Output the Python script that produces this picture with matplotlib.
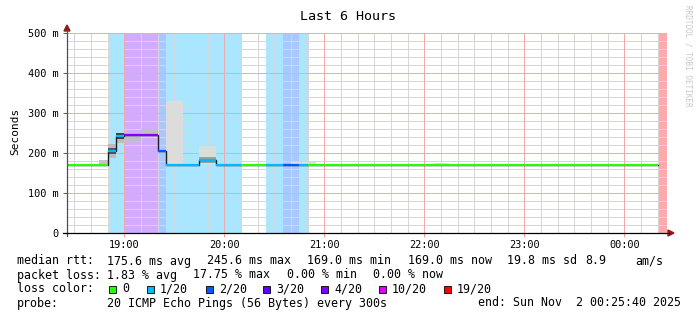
import matplotlib
matplotlib.use("Agg")
import matplotlib.pyplot as plt
import numpy as np
from matplotlib.patches import Rectangle

W, H = 697, 321

# median rtt per 5-minute segment (ms) and lost pings (out of 20)
seg_start = ["18:25", "18:50", "18:55", "19:00", "19:20", "19:25", "19:45", "19:55",
             "20:10", "20:25", "20:35", "20:45", "20:50", "00:20"]
seg_end = ["18:50", "18:55", "19:00", "19:20", "19:25", "19:45", "19:55", "20:10",
           "20:25", "20:35", "20:45", "20:50", "00:20", "00:25:40"]
median_ms = [169.0, 204.0, 242.0, 245.6, 205.0, 169.0, 182.0, 171.0,
             169.0, 169.0, 169.0, 169.0, 169.0, np.nan]
loss = [0, 1, 1, 4, 2, 1, 1, 1, 0, 1, 2, 1, 0, 19]

# smoke (ping spread) boxes
smoke_start = ["18:45", "18:50", "18:50", "18:55", "18:55", "19:00", "19:10", "19:25",
               "19:45", "19:45", "19:55", "20:40", "22:05"]
smoke_end = ["18:50", "18:55", "18:55", "19:00", "19:00", "19:10", "19:20", "19:35",
             "19:55", "19:55", "20:05", "20:55", "22:15"]
smoke_lo = [170, 188, 197, 224, 236, 228, 247, 169, 172, 176, 169, 169, 169]
smoke_hi = [182, 222, 212, 250, 250, 244, 260, 330, 218, 190, 176, 177, 176]
smoke_col = ["#c4c4c4", "#bcbcbc", "#555555", "#bcbcbc", "#404040", "#c0c0c0", "#c0c0c0",
             "#dcdcdc", "#dcdcdc", "#a0a0a0", "#d4d4d4", "#dedede", "#e0e0e0"]

loss_levels = [0, 1, 2, 3, 4, 10, 19]
loss_colors = ["#26ff00", "#00b8ff", "#0059ff", "#5e00ff", "#7e00ff", "#dd00ff", "#ff0000"]
loss_names = ["0", "1/20", "2/20", "3/20", "4/20", "10/20", "19/20"]

hour_ticks = [19, 20, 21, 22, 23, 24]
hour_labels = ["19:00", "20:00", "21:00", "22:00", "23:00", "00:00"]
y_ticks = [0, 100, 200, 300, 400, 500]
y_labels = ["0", "100 m", "200 m", "300 m", "400 m", "500 m"]


def hrs(s):
    parts = [int(p) for p in s.split(":")]
    h = parts[0] + parts[1] / 60 + (parts[2] / 3600 if len(parts) > 2 else 0)
    return h + 24 if parts[0] < 12 else h


def lcolor(n):
    return loss_colors[loss_levels.index(n)]


def light(c, a=1 / 3):
    rgb = np.array(matplotlib.colors.to_rgb(c))
    return tuple(rgb * a + (1 - a))


def fx(x):
    return x / W


def fy(y):
    return 1 - y / H


x0, x1 = hrs("18:25:40"), hrs("00:25:40")
MONO = "DejaVu Sans Mono"

fig = plt.figure(figsize=(W / 100, H / 100), dpi=100)
ax = fig.add_axes([fx(67), fy(233), 600 / W, 200 / H])
ax.set_xlim(x0, x1)
ax.set_ylim(0, 500)

# loss background
for s, e, n in zip(seg_start, seg_end, loss):
    if n > 0:
        ax.axvspan(hrs(s), hrs(e), color=light(lcolor(n)), lw=0, zorder=0.5)

# grid
grid_kw = dict(lw=0.72, antialiased=False)
for m in np.arange(18 * 60 + 30, 24 * 60 + 30, 10):
    if m % 60:
        ax.axvline(m / 60, color="#d6d6d6", zorder=1, **grid_kw)
for v in range(20, 500, 20):
    if v % 100:
        ax.axhline(v, color="#d6d6d6", zorder=1, **grid_kw)
for h in hour_ticks:
    ax.axvline(h, color="#f5a8a8", zorder=1.1, **grid_kw)
for v in y_ticks[1:]:
    ax.axhline(v, color="#f5a8a8", zorder=1.1, **grid_kw)

# smoke
for s, e, lo, hi, c in zip(smoke_start, smoke_end, smoke_lo, smoke_hi, smoke_col):
    ax.add_patch(Rectangle((hrs(s), lo), hrs(e) - hrs(s), hi - lo, color=c, lw=0, zorder=2))

# median line
xs = [hrs(s) for s in seg_start[:-1]] + [hrs(seg_end[-2])]
ys = list(median_ms[:-1]) + [median_ms[-2]]
ax.step(xs, ys, where="post", color="#202020", lw=1.0, zorder=3)
for s, e, m, n in zip(seg_start, seg_end, median_ms, loss):
    if not np.isnan(m):
        ax.hlines(m, hrs(s), hrs(e), colors=lcolor(n), lw=1.6, zorder=4)

for sp in ax.spines.values():
    sp.set_visible(False)
ax.set_xticks(hour_ticks)
ax.set_xticklabels(hour_labels, fontfamily=MONO, fontsize=7.4)
ax.set_yticks(y_ticks)
ax.set_yticklabels(y_labels, fontfamily=MONO, fontsize=7.4)
ax.tick_params(axis="x", length=3, width=0.75, color="#f0a0a0", pad=2)
ax.tick_params(axis="y", length=3, width=0.75, color="#606060", pad=3)

# axes with arrows
fig.add_artist(plt.Line2D([fx(67), fx(67)], [fy(236), fy(30)], color="#505050", lw=0.9))
fig.add_artist(plt.Line2D([fx(63), fx(669)], [fy(233), fy(233)], color="#000000", lw=0.9))
fig.add_artist(plt.Polygon([[fx(64), fy(31)], [fx(70), fy(31)], [fx(67), fy(25)]],
                           closed=True, color="#8b1a1a", transform=fig.transFigure))
fig.add_artist(plt.Polygon([[fx(668), fy(230)], [fx(668), fy(236)], [fx(674), fy(233)]],
                           closed=True, color="#8b1a1a", transform=fig.transFigure))

# titles
fig.text(fx(348), fy(16), "Last 6 Hours", ha="center", va="center", fontfamily=MONO, fontsize=9.6)
fig.text(fx(15), fy(131), "Seconds", ha="center", va="center", rotation=90, fontfamily=MONO, fontsize=8)
fig.text(fx(688), fy(5), "RRDTOOL / TOBI OETIKER", ha="center", va="top", rotation=270,
         fontfamily=MONO, fontsize=5.5, color="#c8c8c8")

# legend
FS = 8.4
rows = [
    (261, [(16.7, "median rtt:"), (107.3, "175.6 ms avg"), (206.7, "245.6 ms max"),
           (306.7, "169.0 ms min"), (408.3, "169.0 ms now"), (506.7, "19.8 ms sd"),
           (585, "8.9"), (635, "am/s")]),
    (275, [(16.7, "packet loss:"), (107.3, "1.83 % avg"), (193.3, "17.75 % max"),
           (286.7, "0.00 % min"), (372.7, "0.00 % now")]),
    (289, [(16.7, "loss color:")]),
    (303, [(16.7, "probe:"), (107.3, "20 ICMP Echo Pings (56 Bytes) every 300s"),
           (478.3, "end: Sun Nov  2 00:25:40 2025")]),
]
for y, items in rows:
    for x, t in items:
        fig.text(fx(x), fy(y), t, ha="left", va="center", fontfamily=MONO, fontsize=FS)

sq_x = [109, 146.7, 205.7, 263.3, 321, 379, 444]
for sx, name, c in zip(sq_x, loss_names, loss_colors):
    fig.add_artist(Rectangle((fx(sx), fy(292.5)), 7 / W, 7 / H, facecolor=c, edgecolor="black",
                             lw=0.6, transform=fig.transFigure))
    fig.text(fx(sx + 13), fy(289), name, ha="left", va="center", fontfamily=MONO, fontsize=FS)

fig.savefig("out.png", dpi=100)
